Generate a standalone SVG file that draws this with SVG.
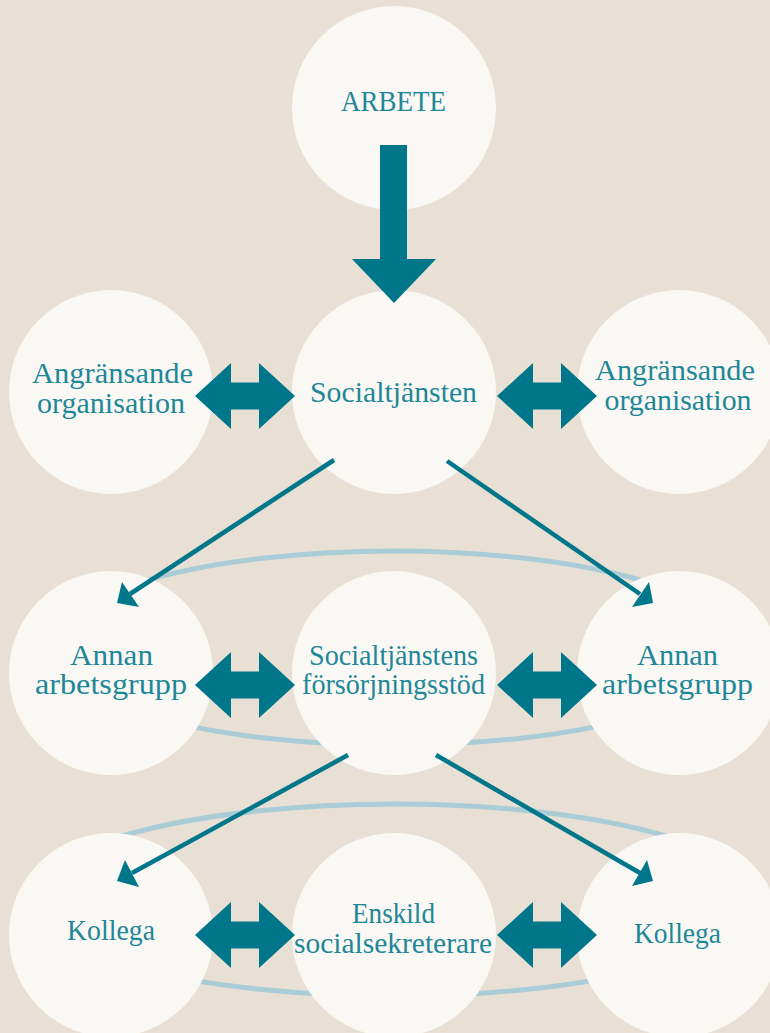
<svg xmlns="http://www.w3.org/2000/svg" xmlns:xlink="http://www.w3.org/1999/xlink" width="770" height="1033" viewBox="0 0 770 1033">
<style>
.bg{fill:#e8e0d4}
.node{fill:#f9f8f5}
.ring{fill:none;stroke:#a9ccd6;stroke-width:5}
.lbl{font-family:"Liberation Serif","Times New Roman",serif;font-size:29px;fill:#1f8797;text-anchor:middle}
.big{fill:#00768a}
.thin{stroke:#00768a;stroke-width:4.5;fill:none}
.head{fill:#00768a}
</style>
<defs>
<polygon id="dbl" points="0,0 36,-33 36,-13.5 64,-13.5 64,-33 100,0 64,33 64,13.5 36,13.5 36,33"/>
</defs>
<rect class="bg" x="0" y="0" width="770" height="1033"/>
<g id="rings">
<ellipse class="ring" cx="394" cy="648" rx="345" ry="97"/>
<ellipse class="ring" cx="394" cy="900" rx="365" ry="96"/>
</g>
<g id="n-arbete"><circle class="node" cx="394" cy="108" r="102"/><text class="lbl" x="393.5" y="111" textLength="105" lengthAdjust="spacingAndGlyphs">ARBETE</text></g>
<g id="n-social"><circle class="node" cx="394" cy="392" r="102"/><text class="lbl" x="393.5" y="402" textLength="167" lengthAdjust="spacingAndGlyphs">Socialtjänsten</text></g>
<g id="n-ang-l"><circle class="node" cx="111" cy="392" r="102"/><text class="lbl" x="112.5" y="383" textLength="161" lengthAdjust="spacingAndGlyphs">Angränsande</text><text class="lbl" x="111" y="413" textLength="148" lengthAdjust="spacingAndGlyphs">organisation</text></g>
<g id="n-ang-r"><circle class="node" cx="679" cy="392" r="102"/><text class="lbl" x="675" y="380" textLength="160" lengthAdjust="spacingAndGlyphs">Angränsande</text><text class="lbl" x="678" y="410" textLength="147" lengthAdjust="spacingAndGlyphs">organisation</text></g>
<g id="n-annan-l"><circle class="node" cx="111" cy="673" r="102"/><text class="lbl" x="111.5" y="665" textLength="83" lengthAdjust="spacingAndGlyphs">Annan</text><text class="lbl" x="111" y="694" textLength="152" lengthAdjust="spacingAndGlyphs">arbetsgrupp</text></g>
<g id="n-fs"><circle class="node" cx="394" cy="673" r="102"/><text class="lbl" x="393.5" y="665" textLength="169" lengthAdjust="spacingAndGlyphs">Socialtjänstens</text><text class="lbl" x="393.5" y="694" textLength="183" lengthAdjust="spacingAndGlyphs">försörjningsstöd</text></g>
<g id="n-annan-r"><circle class="node" cx="679" cy="673" r="102"/><text class="lbl" x="677.5" y="665" textLength="81" lengthAdjust="spacingAndGlyphs">Annan</text><text class="lbl" x="677.5" y="694" textLength="151" lengthAdjust="spacingAndGlyphs">arbetsgrupp</text></g>
<g id="n-kollega-l"><circle class="node" cx="111" cy="935" r="102"/><text class="lbl" x="111" y="940" textLength="88" lengthAdjust="spacingAndGlyphs">Kollega</text></g>
<g id="n-enskild"><circle class="node" cx="394" cy="935" r="102"/><text class="lbl" x="393.5" y="923" textLength="83" lengthAdjust="spacingAndGlyphs">Enskild</text><text class="lbl" x="393" y="953" textLength="198" lengthAdjust="spacingAndGlyphs">socialsekreterare</text></g>
<g id="n-kollega-r"><circle class="node" cx="679" cy="935" r="102"/><text class="lbl" x="677.5" y="943" textLength="87" lengthAdjust="spacingAndGlyphs">Kollega</text></g>
<g id="connectors">
<rect class="big" x="380" y="145" width="27" height="115"/>
<polygon class="big" points="352,259 436,259 394,303"/>
<use xlink:href="#dbl" class="big" transform="translate(195,396)"/>
<use xlink:href="#dbl" class="big" transform="translate(497,396)"/>
<use xlink:href="#dbl" class="big" transform="translate(195,685)"/>
<use xlink:href="#dbl" class="big" transform="translate(497,685)"/>
<use xlink:href="#dbl" class="big" transform="translate(195,935)"/>
<use xlink:href="#dbl" class="big" transform="translate(497,935)"/>
<line class="thin" x1="334" y1="460" x2="130" y2="594"/>
<polygon class="head" points="117,603 122,582 139,607"/>
<line class="thin" x1="447" y1="461" x2="640" y2="594"/>
<polygon class="head" points="653,603 649,582 632,607"/>
<line class="thin" x1="348" y1="755" x2="132" y2="873"/>
<polygon class="head" points="117,881 125,860 139,887"/>
<line class="thin" x1="436" y1="755" x2="640" y2="873"/>
<polygon class="head" points="653,881 647,860 632,886"/>
</g>
</svg>
